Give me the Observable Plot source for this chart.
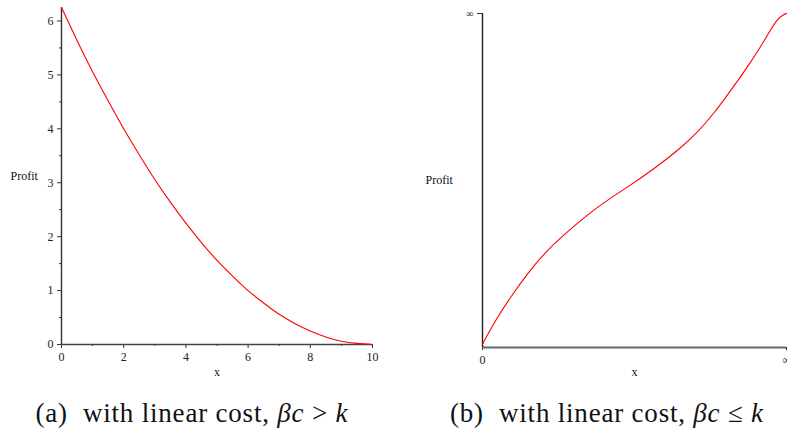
<!DOCTYPE html>
<html>
<head>
<meta charset="utf-8">
<script src="https://cdn.jsdelivr.net/npm/d3@7"></script>
<script src="https://cdn.jsdelivr.net/npm/@observablehq/plot@0.6"></script>
<style>
  html, body { margin: 0; padding: 0; background: #fff; overflow: hidden; width: 787px; height: 436px; }
  #wrap { position: relative; width: 787px; height: 436px; }
  .panel { position: absolute; top: 0; }
  .cap { position: absolute; top: 398px; font-family: 'Liberation Serif', serif; font-size: 27px; letter-spacing: 0.8px; color: #111; white-space: nowrap; line-height: 30px; }
  .cap i { font-style: italic; }
  svg text { font-family: 'Liberation Serif', serif; }
</style>
</head>
<body>
<div id="wrap">
  <div id="a" class="panel" style="left:0px"></div>
  <div id="b" class="panel" style="left:400px"></div>
  <div class="cap" id="capA">(a)&nbsp; with linear cost, <i>βc</i> &gt; <i>k</i></div>
  <div class="cap" id="capB">(b)&nbsp; with linear cost, <i>βc</i> ≤ <i>k</i></div>
</div>
<script>
// Panel (a): profit vs x
const xA = [0, 0.5, 1, 1.5, 2, 2.5, 3, 3.5, 4, 4.5, 5, 5.5, 6, 6.5, 7, 7.5, 8, 8.5, 9, 9.5, 10];
const profitA = [6.25, 5.64, 5.06, 4.52, 4.0, 3.52, 3.06, 2.64, 2.25, 1.89, 1.56, 1.27, 1.0, 0.77, 0.56, 0.39, 0.25, 0.14, 0.06, 0.02, 0];
const xTicksA = [0, 2, 4, 6, 8, 10];
const xMinorA = [1, 3, 5, 7, 9];
const yTicksA = [0, 1, 2, 3, 4, 5, 6];
const yMinorA = [0.5, 1.5, 2.5, 3.5, 4.5, 5.5];

// Panel (b): compactified axes, 0 .. ∞ mapped to 0 .. 1
const xB = [0, 0.042, 0.096, 0.151, 0.206, 0.261, 0.316, 0.371, 0.425, 0.480, 0.557, 0.651, 0.706, 0.761, 0.816, 0.871, 0.914, 0.947, 0.969, 0.991, 1.0];
const profitB = [0.01, 0.081, 0.156, 0.225, 0.285, 0.332, 0.375, 0.415, 0.450, 0.482, 0.530, 0.596, 0.643, 0.700, 0.769, 0.839, 0.899, 0.950, 0.982, 0.998, 1.0];
const xTicksB = [0, 1];
const xTickLabelsB = ["0", "∞"];
const yTicksB = [1];
const yTickLabelsB = ["∞"];

const serif = "'Liberation Serif', serif";
const dataA = xA.map((x, i) => ({x, y: profitA[i]}));
const dataB = xB.map((x, i) => ({x, y: profitB[i]}));

const plotA = Plot.plot({
  width: 400, height: 390,
  marginLeft: 61, marginRight: 28, marginTop: 7, marginBottom: 46,
  style: {fontFamily: serif, fontSize: "12px", color: "#222", overflow: "visible"},
  x: {domain: [0, 10]},
  y: {domain: [0, 6.25]},
  marks: [
    Plot.axisX(xTicksA, {tickSize: 4, tickPadding: 4, label: null, stroke: "#333", fontFamily: serif, tickFormat: "d"}),
    Plot.axisX(xMinorA, {tickSize: 2, text: null, label: null, stroke: "#333"}),
    Plot.axisY(yTicksA, {tickSize: 4, tickPadding: 4, label: null, stroke: "#333", fontFamily: serif, tickFormat: "d"}),
    Plot.axisY(yMinorA, {tickSize: 2, text: null, label: null, stroke: "#333"}),
    Plot.ruleY([0], {stroke: "#444", strokeWidth: 1.6}),
    Plot.ruleX([0], {stroke: "#333", strokeWidth: 1.4}),
    Plot.line(dataA, {x: "x", y: "y", stroke: "#ff0000", strokeWidth: 1.1, curve: "natural"}),
    Plot.text(["Profit"], {frameAnchor: "left", dx: -51, textAnchor: "start", fontSize: 12, fontFamily: serif, fill: "#111"}),
    Plot.text(["x"], {frameAnchor: "bottom", dy: 31, fontSize: 12, fontFamily: serif, fill: "#111"})
  ]
});
document.getElementById("a").appendChild(plotA);

const plotB = Plot.plot({
  width: 387, height: 390,
  marginLeft: 82, marginRight: 1, marginTop: 13, marginBottom: 43,
  style: {fontFamily: serif, fontSize: "12px", color: "#222", overflow: "visible"},
  x: {domain: [0, 1]},
  y: {domain: [0, 1]},
  marks: [
    Plot.axisX(xTicksB, {tickSize: 3, tickPadding: 5, label: null, stroke: "#333", fontFamily: serif, tickFormat: (d) => xTickLabelsB[xTicksB.indexOf(d)]}),
    Plot.axisY(yTicksB, {tickSize: 5, tickPadding: 4, label: null, stroke: "#333", fontSize: 10, fontFamily: serif, tickFormat: (d) => yTickLabelsB[yTicksB.indexOf(d)]}),
    Plot.ruleY([0], {stroke: "#666", strokeWidth: 1.8}),
    Plot.ruleX([0], {stroke: "#222", strokeWidth: 1.4}),
    Plot.line(dataB, {x: "x", y: "y", stroke: "#ff0000", strokeWidth: 1.1, curve: "basis"}),
    Plot.text(["Profit"], {frameAnchor: "left", dx: -57, textAnchor: "start", fontSize: 12, fontFamily: serif, fill: "#111"}),
    Plot.text(["x"], {frameAnchor: "bottom", dy: 28, fontSize: 12, fontFamily: serif, fill: "#111"})
  ]
});
document.getElementById("b").appendChild(plotB);

// center captions under their panels
function center(id, cx) {
  const el = document.getElementById(id);
  el.style.left = (cx - el.offsetWidth / 2) + "px";
}
center("capA", 192);
center("capB", 607);
</script>
</body>
</html>
